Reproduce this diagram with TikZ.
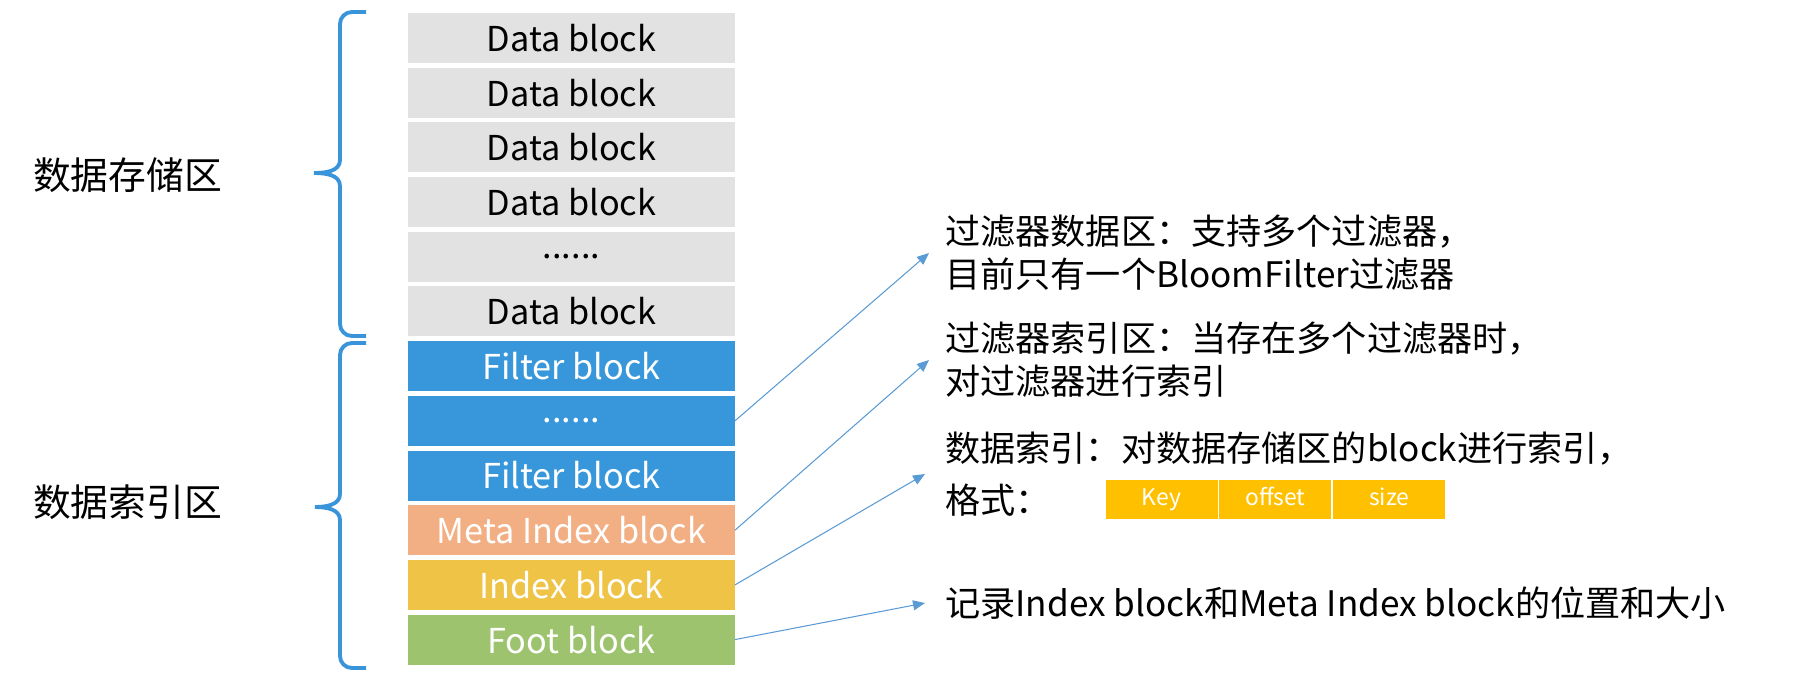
\documentclass[tikz,border=0pt]{standalone}
\usepackage{fontspec}
\setmainfont{Noto Sans CJK SC}
\usetikzlibrary{positioning,arrows.meta}
\definecolor{dataGray}{RGB}{226,226,226}
\definecolor{filterBlue}{RGB}{56,151,219}
\definecolor{metaOrange}{RGB}{242,175,132}
\definecolor{indexYellow}{RGB}{239,195,70}
\definecolor{footGreen}{RGB}{157,195,111}
\definecolor{keyGold}{RGB}{255,192,0}
\definecolor{braceBlue}{RGB}{58,148,218}
\definecolor{arrowBlue}{RGB}{91,155,213}

\begin{document}
\begin{tikzpicture}[x=0.02cm,y=-0.02cm,
    blk/.style={minimum width=6.54cm,minimum height=1cm,inner sep=0pt,outer sep=0pt,font=\fontsize{19.5}{22}\selectfont},
    data/.style={blk,fill=dataGray,text=black},
    filt/.style={blk,fill=filterBlue,text=white},
    brc/.style={draw=braceBlue,line width=2.2pt},
    arrow/.style={-{Triangle[length=0.24cm,width=0.2cm]},draw=arrowBlue,line width=0.6pt},
    desc/.style={anchor=west,align=left,inner sep=0pt,font=\fontsize{20}{24.4}\selectfont},
    cell/.style={fill=keyGold,draw=white,line width=0.5pt,text=white,minimum width=2.26cm,minimum height=0.8cm,inner sep=0pt,
        text height=1.6ex,text depth=0.4ex,font=\fontsize{13}{15}\selectfont},
    node distance=0.094cm,
]
\useasboundingbox (0,0) rectangle (1793,691);

\node[data] (d1) at (571.5,38) {Data block};
\node[data,below=of d1] (d2) {Data block};
\node[data,below=of d2] (d3) {Data block};
\node[data,below=of d3] (d4) {Data block};
\node[data,below=of d4] (d5) {......};
\node[data,below=of d5] (d6) {Data block};
\node[filt,below=of d6] (f1) {Filter block};
\node[filt,below=of f1] (f2) {......};
\node[filt,below=of f2] (f3) {Filter block};
\node[blk,fill=metaOrange,text=white,below=of f3] (meta) {Meta Index block};
\node[blk,fill=indexYellow,text=white,below=of meta] (idx) {Index block};
\node[blk,fill=footGreen,text=white,below=of idx] (foot) {Foot block};

\node[font=\fontsize{21.5}{24}\selectfont] (store) at (127.5,175) {数据存储区};
\node[font=\fontsize{21.5}{24}\selectfont] (index) at (127.5,502) {数据索引区};

% braces
\draw[brc] (366,12) -- (352,12) to[out=180,in=90] (340,24) -- (340,160)
    to[out=-90,in=0] (314,173) to[out=0,in=90] (340,186) -- (340,324)
    to[out=-90,in=180] (352,336) -- (366,336);
\draw[brc] (366,343) -- (352,343) to[out=180,in=90] (340,355) -- (340,494)
    to[out=-90,in=0] (315,507) to[out=0,in=90] (340,520) -- (340,656)
    to[out=-90,in=180] (352,668) -- (366,668);

\node[desc] (fdata) at (945,253) {过滤器数据区：支持多个过滤器，\\目前只有一个BloomFilter过滤器};
\node[desc] (fidx) at (945,360) {过滤器索引区：当存在多个过滤器时，\\对过滤器进行索引};
\node[desc] (didx) at (945,474) {数据索引：对数据存储区的block进行索引，\\[5pt]格式：};
\node[desc] (foottxt) at (945,603) {记录Index block和Meta Index block的位置和大小};

\node[cell] (kkey) at (1161.5,499.5) {Key};
\node[cell,right=0pt of kkey] (koff) {offset};
\node[cell,right=0pt of koff] (ksize) {size};

\draw[arrow] (f2.east) -- ([xshift=-0.32cm]fdata.west);
\draw[arrow] (meta.east) -- ([xshift=-0.32cm]fidx.west);
\draw[arrow] (idx.east) -- ([xshift=-0.4cm]didx.west);
\draw[arrow] (foot.east) -- ([xshift=-0.4cm]foottxt.west);
\end{tikzpicture}
\end{document}
